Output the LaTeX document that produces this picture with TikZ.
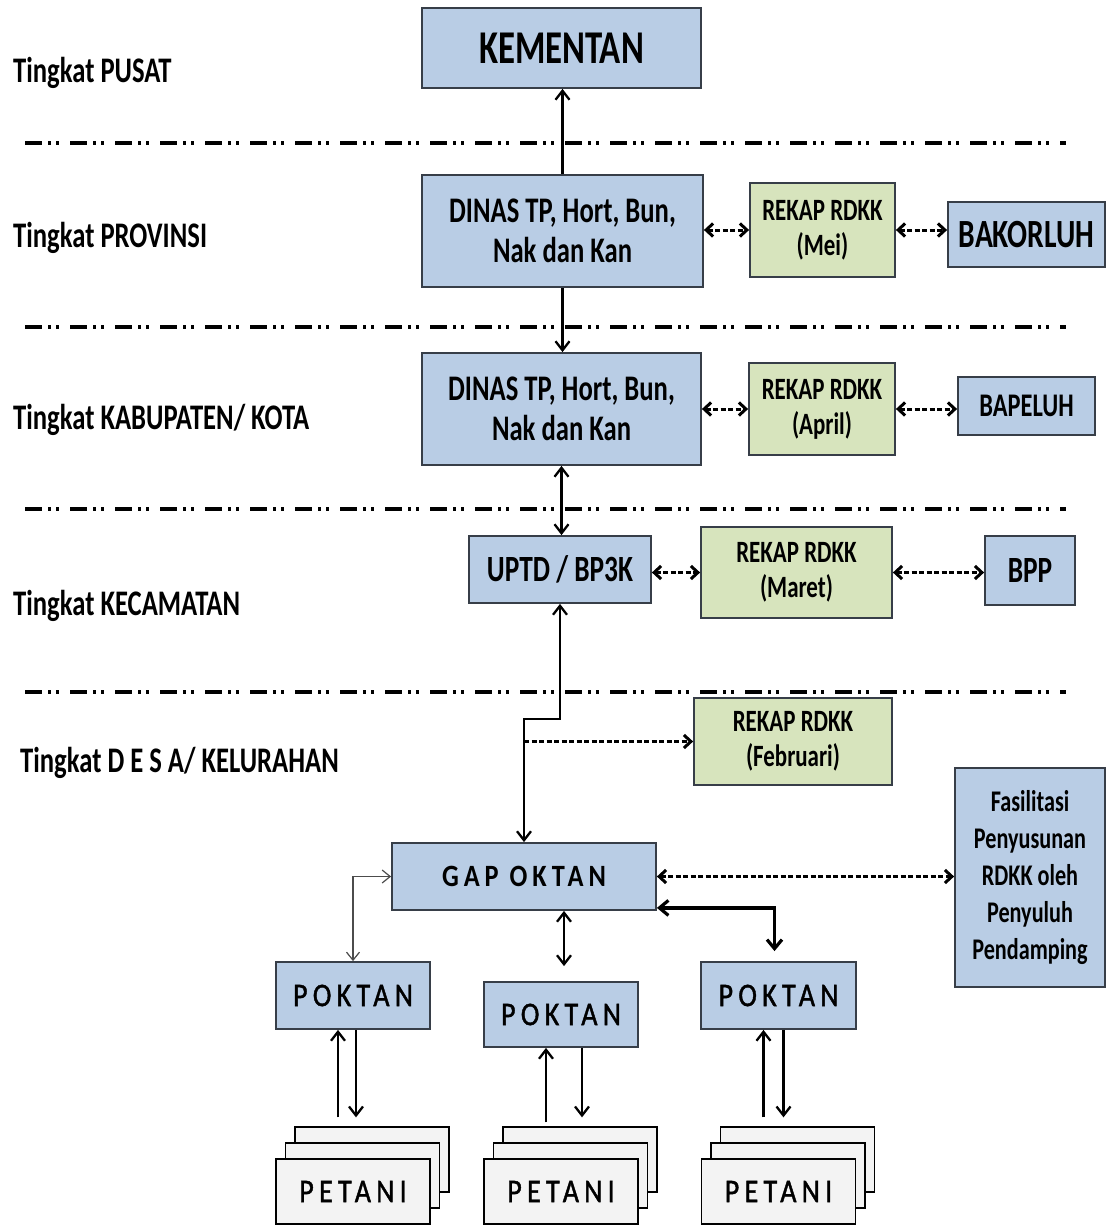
\documentclass[tikz,border=0pt]{standalone}
\usepackage{fontspec}
\setmainfont{Carlito}[FakeStretch=0.74]
\newfontfamily\spacedfont{Carlito}[LetterSpace=16,FakeStretch=0.85]
\newfontfamily\spacedmed{Carlito}[LetterSpace=16,FakeStretch=0.85,FakeBold=1.2]
\usetikzlibrary{arrows.meta}
\definecolor{boxblue}{RGB}{185,205,229}
\definecolor{boxgreen}{RGB}{215,228,189}
\definecolor{edgecol}{RGB}{55,62,72}
\definecolor{petfill}{RGB}{243,243,243}
\tikzset{
  bluebox/.style={draw=edgecol, line width=1.8pt, fill=boxblue, inner sep=0pt, align=center},
  greenbox/.style={draw=edgecol, line width=1.8pt, fill=boxgreen, inner sep=0pt, align=center},
  petbox/.style={draw=black, line width=1.3pt, fill=petfill, minimum width=154pt, minimum height=65pt, inner sep=0pt},
  lvl/.style={anchor=west, inner sep=0pt, font=\fontsize{36}{42}\selectfont\bfseries},
  dinasfont/.style={font=\fontsize{36}{40}\selectfont\bfseries},
  rekapfont/.style={font=\fontsize{31}{35}\selectfont\bfseries},
  sarr/.style={line width=2.3pt, -{Straight Barb[length=9pt,width=14pt]}},
  sdbl/.style={line width=2.3pt, {Straight Barb[length=9pt,width=14pt]}-{Straight Barb[length=9pt,width=14pt]}},
  darr/.style={line width=3pt, dash pattern=on 5pt off 2.5pt, -{Straight Barb[length=7pt,width=13pt]}},
  ddbl/.style={line width=3pt, dash pattern=on 5pt off 2.5pt, {Straight Barb[length=7pt,width=13pt]}-{Straight Barb[length=7pt,width=13pt]}},
  sepline/.style={line width=3.2pt, dash pattern=on 17pt off 6pt on 3pt off 5pt on 3pt off 11pt},
}
\begin{document}
\begin{tikzpicture}[x=1pt,y=-1pt]
\useasboundingbox[fill=white] (0,0) rectangle (1107,1225);

% separators
\draw[sepline] (25,143) -- (1066,143);
\draw[sepline] (25,327) -- (1066,327);
\draw[sepline] (25,509) -- (1066,509);
\draw[sepline] (25,692) -- (1066,692);

% level labels
\node[lvl] (lv1) at (13,73) {Tingkat PUSAT};
\node[lvl] (lv2) at (13,238) {Tingkat PROVINSI};
\node[lvl] (lv3) at (13,420) {Tingkat KABUPATEN/ KOTA};
\node[lvl] (lv4) at (13,606) {Tingkat KECAMATAN};
\node[lvl] (lv5) at (20,763) {Tingkat D E S A/ KELURAHAN};

% boxes
\node[bluebox, minimum width=279pt, minimum height=80pt, font=\fontsize{47}{52}\selectfont\bfseries] (kem) at (561.5,48) {KEMENTAN};
\node[bluebox, dinasfont, minimum width=281pt, minimum height=112pt] (dinP) at (562.5,231) {DINAS TP, Hort, Bun,\\Nak dan Kan};
\node[greenbox, rekapfont, minimum width=145pt, minimum height=94pt] (rekM) at (822.5,230) {REKAP RDKK\\(Mei)};
\node[bluebox, minimum width=157pt, minimum height=65pt, font=\fontsize{40}{44}\selectfont\bfseries] (bak) at (1026.5,234.5) {BAKORLUH};

\node[bluebox, dinasfont, minimum width=279pt, minimum height=112pt] (dinK) at (561.5,409) {DINAS TP, Hort, Bun,\\Nak dan Kan};
\node[greenbox, rekapfont, minimum width=146pt, minimum height=92pt] (rekA) at (822,409) {REKAP RDKK\\(April)};
\node[bluebox, minimum width=137pt, minimum height=58pt, font=\fontsize{33}{38}\selectfont\bfseries] (bap) at (1026.5,406) {BAPELUH};

\node[bluebox, minimum width=182pt, minimum height=67pt, font=\fontsize{37}{42}\selectfont\bfseries] (uptd) at (560,569.5) {UPTD / BP3K};
\node[greenbox, rekapfont, minimum width=191pt, minimum height=91pt] (rekMa) at (796.5,572.5) {REKAP RDKK\\(Maret)};
\node[bluebox, minimum width=90pt, minimum height=69pt, font=\fontsize{37}{42}\selectfont\bfseries] (bpp) at (1030,570.5) {BPP};

\node[greenbox, rekapfont, minimum width=198pt, minimum height=87pt] (rekF) at (793,741.5) {REKAP RDKK\\(Februari)};
\node[bluebox, minimum width=150pt, minimum height=219pt, font=\fontsize{30}{37}\selectfont\bfseries] (fas) at (1030,877.5) {Fasilitasi\\Penyusunan\\RDKK oleh\\Penyuluh\\Pendamping};

\node[bluebox, minimum width=264pt, minimum height=67pt, font=\fontsize{31}{36}\spacedfont\bfseries] (gap) at (524,876.5) {GAP OKTAN};

\node[bluebox, minimum width=154pt, minimum height=67pt, font=\fontsize{33}{38}\spacedmed] (pok1) at (353,995.5) {POKTAN};
\node[bluebox, minimum width=154pt, minimum height=65pt, font=\fontsize{33}{38}\spacedmed] (pok2) at (561,1014.5) {POKTAN};
\node[bluebox, minimum width=155pt, minimum height=67pt, font=\fontsize{33}{38}\spacedmed] (pok3) at (778.5,995.5) {POKTAN};

% PETANI stacks
\node[petbox] (pet1c) at (372,1159.5) {};
\node[petbox] (pet1b) at (362.5,1175.5) {};
\node[petbox, font=\fontsize{33}{38}\spacedmed] (pet1) at (353,1191.5) {PETANI};
\node[petbox] (pet2c) at (580,1159.5) {};
\node[petbox] (pet2b) at (570.5,1175.5) {};
\node[petbox, font=\fontsize{33}{38}\spacedmed] (pet2) at (561,1191.5) {PETANI};
\node[petbox] (pet3c) at (797.5,1159.5) {};
\node[petbox] (pet3b) at (788,1175.5) {};
\node[petbox, font=\fontsize{33}{38}\spacedmed] (pet3) at (778.5,1191.5) {PETANI};

% vertical hierarchy connectors
\draw[sarr] (dinP.north) -- (dinP.north |- kem.south);
\draw[sarr] (dinP.south) -- (dinP.south |- dinK.north);
\draw[sdbl] (dinK.south) -- (dinK.south |- uptd.north);
\draw[sdbl] (uptd.south) -- ++(0,115) -| (gap.north);

% dashed horizontal connectors
\draw[ddbl] (dinP.east |- rekM.west) -- (rekM.west);
\draw[ddbl] (rekM.east) -- (rekM.east -| bak.west);
\draw[ddbl] (dinK.east |- rekA.west) -- (rekA.west);
\draw[ddbl] (rekA.east) -- (rekA.east -| bap.west);
\draw[ddbl] (uptd.east |- rekMa.west) -- (rekMa.west);
\draw[ddbl] (rekMa.east) -- (rekMa.east -| bpp.west);
\draw[darr] (gap.north |- rekF.west) -- (rekF.west);
\draw[ddbl] (gap.east) -- (gap.east -| fas.west);

% GAPOKTAN to POKTAN
\draw[line width=1.2pt, draw=black!70, {Straight Barb[length=8pt,width=13pt]}-{Straight Barb[length=8pt,width=13pt]}] (gap.west) -| (pok1.north);
\coordinate (g2) at ([xshift=40pt]gap.south);
\coordinate (p2t) at ([yshift=15pt]pok2.north);
\draw[sdbl] (g2) -- (g2 |- p2t);
\draw[line width=3.2pt, {Straight Barb[length=9pt,width=15pt]}-{Straight Barb[length=9pt,width=15pt]}] ([yshift=3pt]gap.south east) -| ([xshift=-4pt,yshift=10pt]pok3.north);

% POKTAN to PETANI
\coordinate (t1) at ([yshift=9pt]pet1c.north);
\coordinate (p1u) at ([xshift=-15pt]pok1.south);
\coordinate (p1d) at ([xshift=3pt]pok1.south);
\draw[sarr] (p1u |- t1) -- (p1u);
\draw[sarr] (p1d) -- (p1d |- t1);
\coordinate (t2) at ([yshift=4pt]pet2c.north);
\coordinate (p2u) at ([xshift=-15pt]pok2.south);
\coordinate (p2d) at ([xshift=21pt]pok2.south);
\draw[sarr] (p2u |- t2) -- (p2u);
\draw[sarr] (p2d) -- (p2d |- t1);
\coordinate (t3) at ([yshift=9pt]pet3c.north);
\coordinate (p3u) at ([xshift=-15pt]pok3.south);
\coordinate (p3d) at ([xshift=5pt]pok3.south);
\draw[sarr] (p3u |- t3) -- (p3u);
\draw[sarr] (p3d) -- (p3d |- t3);
\end{tikzpicture}
\end{document}
